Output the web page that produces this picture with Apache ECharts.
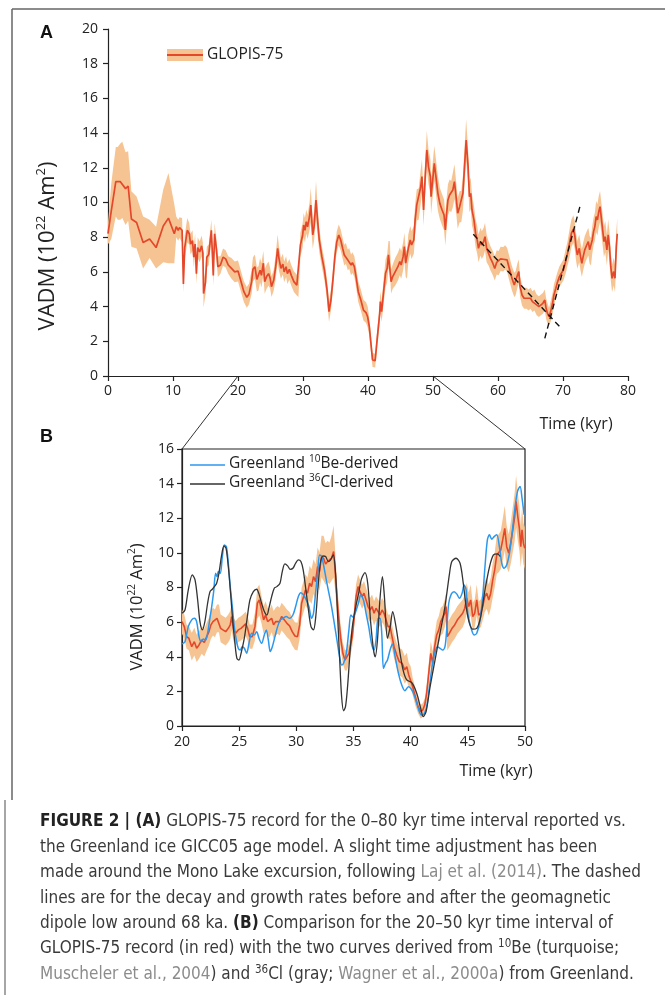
<!DOCTYPE html>
<html><head><meta charset="utf-8">
<script src="https://cdn.jsdelivr.net/npm/echarts@6/dist/echarts.min.js"></script>
<style>html,body{margin:0;padding:0;background:#fff}#c{width:665px;height:995px}</style>
</head><body><div id="c"></div>
<script>
// ---------- DATA (time kyr, VADM 1e22 Am2, band half-width) ----------
const glopisA = [
[0,8.2,0.6],[0.5,9.5,1.6],[1.2,11.2,2.0],[1.5,11.1,2.1],[1.9,11.2,2.2],[2.2,11.3,2.2],[2.7,10.8,2.1],[3.1,10.95,2.0],
[3.6,9.05,1.6],[4.4,8.85,1.5],[5.4,7.7,1.5],[6.4,7.9,1.1],[7.4,7.4,1.2],[8.5,8.65,2.1],[9.3,9.1,2.6],[10.2,8.2,1.7],
[10.5,8.6,0.6],[10.8,8.4,0.6],[11.0,8.55,0.6],[11.4,8.4,0.7],[11.6,5.3,0.5],[11.8,7.4,0.7],[12.2,8.4,0.7],[12.5,8.2,0.6],
[12.7,7.6,0.6],[13.0,7.8,0.6],[13.2,6.85,0.6],[13.4,7.6,0.6],[13.6,5.9,0.6],[13.8,7.4,0.6],[14.1,7.15,0.6],[14.4,7.5,0.6],
[14.6,7.1,0.6],[14.7,4.75,0.8],[15.0,5.4,0.7],[15.2,6.85,0.6],[15.5,7.0,0.6],[15.9,8.4,0.6],[16.2,5.8,0.6],[16.4,8.2,0.6],
[16.7,7.25,0.6],[16.9,6.3,0.6],[17.3,6.4,0.5],[17.7,6.85,0.5],[18.1,6.75,0.5],[18.5,6.4,0.5],[19.0,6.2,0.6],[19.5,6.0,0.6],
[20.0,6.05,0.6],[20.4,5.53,0.6],[20.9,4.86,0.6],[21.35,4.53,0.6],[21.7,4.73,0.6],[22.1,5.44,0.7],[22.3,6.15,0.7],[22.6,6.3,0.7],
[22.9,5.57,0.7],[23.15,5.63,0.7],[23.4,6.1,0.7],[23.6,5.8,0.7],[23.9,6.5,0.7],[24.1,5.44,0.7],[24.4,5.73,0.7],[24.7,5.9,0.7],
[24.95,5.63,0.6],[25.15,5.15,0.6],[25.5,5.53,0.6],[25.8,6.3,0.7],[26.1,7.36,0.8],[26.3,6.78,0.7],[26.6,6.2,0.6],[26.9,6.45,0.6],
[27.1,6.0,0.6],[27.4,6.3,0.6],[27.6,5.9,0.6],[27.9,6.15,0.6],[28.2,5.8,0.6],[28.6,5.44,0.6],[29.05,5.24,0.6],[29.3,5.15,0.6],
[29.6,7.55,0.7],[29.95,8.13,0.7],[30.1,8.7,0.7],[30.3,8.4,0.7],[30.5,8.9,0.7],[30.7,8.6,0.7],[31.0,9.18,0.8],[31.2,9.85,1.0],
[31.5,8.13,0.8],[31.7,8.6,0.8],[32.0,10.14,1.1],[32.2,9.18,0.9],[32.5,7.84,0.7],[32.9,6.88,0.6],[33.3,6.1,0.6],[33.7,4.96,0.6],
[34.0,3.71,0.6],[34.3,4.38,0.6],[34.6,5.53,0.6],[34.9,6.88,0.6],[35.2,7.74,0.6],[35.5,8.13,0.6],[35.8,7.84,0.6],[36.1,7.36,0.6],
[36.35,6.97,0.6],[36.6,7.07,0.6],[36.9,6.68,0.6],[37.1,6.78,0.6],[37.4,6.4,0.6],[37.6,6.53,0.6],[37.9,6.3,0.6],[38.2,5.63,0.6],
[38.5,4.86,0.6],[38.9,4.38,0.6],[39.3,3.8,0.6],[39.7,3.65,0.6],[39.95,3.4,0.6],[40.2,2.84,0.5],[40.45,1.88,0.5],[40.7,0.92,0.4],
[41.1,0.89,0.4],[41.4,2.08,0.5],[41.8,3.6,0.6],[41.9,4.29,0.6],[42.1,3.71,0.6],[42.4,4.86,0.7],[42.7,5.92,0.8],[42.95,6.21,0.8],
[43.15,6.98,0.8],[43.35,6.98,0.8],[43.55,5.44,0.7],[43.8,5.73,0.7],[44.2,6.02,0.8],[44.6,6.3,0.8],[44.9,6.6,0.8],[45.1,6.4,0.8],
[45.4,6.88,0.8],[45.6,7.46,0.8],[45.8,6.5,0.8],[46.0,6.4,0.8],[46.2,7.36,0.8],[46.5,7.84,0.8],[46.7,7.55,0.8],[47.05,7.84,0.8],
[47.25,9.0,0.9],[47.5,9.86,0.9],[47.8,9.9,0.9],[48.1,10.88,1.0],[48.3,11.49,1.0],[48.55,9.57,0.9],[48.8,11.49,1.0],[49.05,13.03,1.1],
[49.3,12.07,1.0],[49.6,11.49,1.0],[49.7,10.34,1.0],[49.98,11.4,1.0],[50.2,12.26,1.0],[50.45,11.49,1.0],[50.75,10.53,1.0],[51.05,9.95,0.9],
[51.4,9.57,0.9],[51.7,9.28,0.9],[51.9,8.42,0.9],[52.1,9.38,0.9],[52.3,10.15,0.9],[52.55,10.43,0.9],[52.8,10.34,0.9],[53.05,10.72,1.0],
[53.3,11.2,1.0],[53.6,10.15,0.9],[53.8,9.38,0.9],[54.1,9.76,0.9],[54.35,9.76,0.9],[54.6,10.53,1.0],[54.85,12.07,1.1],[55.1,13.6,1.2],
[55.4,12.07,1.0],[55.6,10.34,0.9],[55.8,10.53,0.9],[56.0,9.57,0.9],[56.3,9.0,0.8],[56.55,8.23,0.8],[56.8,7.84,0.8],[57.0,7.36,0.8],
[57.3,7.75,0.8],[57.5,7.55,0.8],[57.8,7.75,0.8],[58.0,8.03,0.8],[58.25,7.36,0.8],[58.55,7.07,0.7],[58.85,6.78,0.7],[59.2,6.5,0.7],
[59.5,6.2,0.7],[59.8,6.55,0.7],[60.1,6.5,0.7],[60.4,6.75,0.7],[60.8,6.73,0.7],[61.1,6.84,0.7],[61.4,6.69,0.7],[61.8,6.11,0.7],
[62.15,5.63,0.7],[62.5,5.25,0.7],[62.7,5.34,0.7],[63.0,5.82,0.7],[63.2,6.02,0.7],[63.4,5.15,0.6],[63.7,4.67,0.6],[64.0,4.48,0.6],
[64.4,4.48,0.6],[64.7,4.38,0.6],[65.0,4.48,0.6],[65.3,4.29,0.6],[65.6,4.38,0.6],[65.95,4.1,0.6],[66.3,4.0,0.6],[66.6,4.1,0.6],
[66.9,4.19,0.6],[67.2,4.38,0.6],[67.4,3.9,0.6],[67.6,3.62,0.6],[67.85,3.42,0.5],[68.1,3.71,0.6],[68.4,4.19,0.6],[68.6,4.67,0.6],
[68.9,5.06,0.6],[69.1,5.34,0.6],[69.45,5.73,0.6],[69.75,5.92,0.6],[70.06,6.11,0.6],[70.4,6.59,0.7],[70.7,7.07,0.7],[71.0,7.65,0.8],
[71.3,8.23,0.8],[71.6,8.46,0.8],[71.8,8.13,0.8],[72.0,7.46,0.8],[72.2,6.98,0.8],[72.5,7.36,0.8],[72.7,6.88,0.8],[72.9,6.5,0.8],
[73.1,6.88,0.8],[73.35,7.27,0.8],[73.65,7.55,0.8],[73.9,7.75,0.8],[74.1,7.27,0.8],[74.3,7.17,0.8],[74.5,7.84,0.8],[74.7,8.32,0.8],
[74.9,8.61,0.8],[75.1,9.19,0.9],[75.3,9.0,0.9],[75.5,9.47,0.9],[75.7,9.76,0.9],[75.9,9.09,0.9],[76.1,8.42,0.9],[76.3,7.75,0.9],
[76.5,8.03,0.9],[76.75,7.27,0.9],[76.95,8.13,0.9],[77.15,7.46,0.9],[77.35,6.3,0.8],[77.55,5.63,0.8],[77.8,6.02,0.8],[78.0,5.63,0.8],
[78.2,7.46,0.9],[78.35,8.2,0.9]
];
const trendDecay = [[56.2,8.17],[69.5,2.84]];
const trendGrowth = [[67.2,2.17],[72.7,9.9]];

const glopisB = [
[20.0,6.03,0.7],[20.2,5.74,0.7],[20.4,5.16,0.7],[20.6,5.07,0.7],[20.85,4.58,0.8],[21.08,4.87,0.8],[21.28,4.49,0.8],[21.49,4.68,0.8],
[21.72,4.97,0.8],[21.95,4.82,0.8],[22.16,5.16,0.8],[22.36,5.45,0.8],[22.53,5.84,0.8],[22.71,6.03,0.8],[22.88,5.93,0.8],[23.06,6.22,0.8],
[23.23,6.22,0.8],[23.38,5.64,0.8],[23.58,5.55,0.8],[23.82,5.45,0.8],[24.05,5.64,0.8],[24.22,5.84,0.8],[24.34,6.32,0.8],[24.52,5.55,0.7],
[24.69,5.36,0.7],[24.92,5.55,0.7],[25.16,5.64,0.7],[25.39,5.78,0.7],[25.57,5.9,0.7],[25.74,5.64,0.7],[25.92,5.16,0.7],[26.15,5.16,0.7],
[26.38,5.74,0.8],[26.59,7.09,0.9],[26.76,7.28,0.9],[26.96,6.7,0.8],[27.14,6.13,0.8],[27.31,6.41,0.8],[27.49,6.03,0.8],[27.66,5.93,0.8],
[27.84,6.22,0.8],[28.01,5.84,0.8],[28.19,6.03,0.8],[28.36,6.13,0.8],[28.54,6.03,0.8],[28.71,6.32,0.8],[28.95,6.13,0.8],[29.18,5.93,0.8],
[29.41,5.78,0.8],[29.64,5.45,0.8],[29.88,5.2,0.8],[30.1,5.16,0.8],[30.29,5.84,0.8],[30.46,7.09,0.9],[30.63,7.47,0.9],[30.8,7.86,0.9],
[30.98,7.67,0.9],[31.16,8.25,1.0],[31.33,8.05,1.0],[31.5,8.63,1.0],[31.68,8.34,1.0],[31.86,9.21,1.1],[32.03,8.92,1.1],[32.2,9.79,1.2],
[32.38,9.69,1.3],[32.56,9.36,1.2],[32.73,9.5,1.2],[32.9,9.4,1.2],[33.08,9.69,1.3],[33.26,10.08,1.5],[33.37,9.21,1.2],[33.55,7.47,0.9],
[33.72,6.13,0.8],[33.9,4.97,0.7],[34.07,4.2,0.6],[34.25,3.81,0.6],[34.42,3.81,0.6],[34.6,4.2,0.6],[34.77,4.78,0.6],[34.9,5.2,0.6],
[35.05,6.2,0.6],[35.22,7.47,0.7],[35.4,8.05,0.7],[35.57,7.76,0.7],[35.75,7.47,0.7],[35.92,7.67,0.7],[36.1,7.28,0.7],[36.27,6.9,0.7],
[36.45,6.7,0.7],[36.62,6.9,0.7],[36.8,6.51,0.7],[36.97,6.8,0.7],[37.15,6.61,0.7],[37.32,6.41,0.7],[37.5,6.7,0.7],[37.67,6.51,0.7],
[37.85,6.13,0.7],[38.02,5.74,0.7],[38.2,5.74,0.7],[38.37,5.16,0.7],[38.55,4.58,0.7],[38.78,4.1,0.7],[39.0,3.72,0.8],[39.25,3.62,0.8],
[39.48,3.24,0.8],[39.66,3.43,0.8],[39.83,2.95,0.7],[40.0,2.85,0.6],[40.18,2.27,0.5],[40.41,1.69,0.5],[40.65,1.12,0.4],[40.88,0.83,0.4],
[41.06,0.92,0.4],[41.23,1.21,0.4],[41.4,1.89,0.5],[41.58,3.04,0.6],[41.76,4.2,0.7],[41.93,3.62,0.7],[42.1,4.58,0.7],[42.28,5.26,0.8],
[42.46,5.55,0.8],[42.63,6.03,0.8],[42.8,6.13,0.8],[42.98,6.51,0.8],[43.1,6.9,0.8],[43.2,5.16,0.8],[43.39,5.36,0.8],[43.62,5.64,0.8],
[43.85,5.84,0.8],[44.09,6.13,0.8],[44.32,6.32,0.8],[44.55,6.51,0.8],[44.73,6.8,0.8],[44.9,7.38,0.9],[45.08,6.9,0.8],[45.25,7.28,0.9],
[45.43,6.32,0.8],[45.6,6.51,0.8],[45.78,7.28,0.9],[45.95,6.41,0.8],[46.13,6.51,0.8],[46.3,6.9,0.8],[46.48,7.47,0.9],[46.65,7.67,0.9],
[46.83,7.28,0.9],[47.0,7.67,0.9],[47.18,8.44,1.0],[47.35,9.02,1.0],[47.53,9.88,1.1],[47.7,9.98,1.1],[47.88,10.17,1.1],[48.05,10.75,1.2],
[48.23,11.42,1.3],[48.4,10.36,1.2],[48.58,9.98,1.1],[48.75,10.56,1.2],[48.93,11.33,1.3],[49.1,12.1,1.4],[49.22,12.97,1.5],[49.37,12.1,1.4],
[49.51,11.42,1.3],[49.63,10.36,1.2],[49.74,11.33,1.3],[49.86,10.56,1.2],[49.98,10.27,1.2]
];
const be10B = [
[20,4.74],[20.26,4.87],[20.55,5.74],[20.85,6.13],[21.08,6.22],[21.28,6.03],[21.49,5.16],[21.66,4.87],[21.86,5.03],[22.07,4.97],
[22.24,5.36],[22.42,6.13],[22.6,6.9],[22.77,7.76],[22.94,8.82],[23.06,8.63],[23.18,8.92],[23.35,8.82],[23.53,9.79],[23.7,10.46],
[23.88,10.36],[24.05,9.4],[24.22,8.05],[24.4,6.9],[24.57,5.74],[24.75,4.97],[24.92,4.49],[25.1,4.39],[25.27,4.58],[25.45,4.49],
[25.65,4.2],[25.86,4.78],[26.09,5.36],[26.32,5.26],[26.53,5.45],[26.73,5.07],[26.96,4.78],[27.2,5.26],[27.37,5.55],[27.55,4.97],
[27.72,4.3],[27.9,4.58],[28.13,5.16],[28.36,5.74],[28.6,6.13],[28.83,6.22],[29.12,6.32],[29.41,6.22],[29.7,6.41],[29.94,6.9],
[30.17,7.47],[30.4,7.7],[30.63,7.57],[30.87,7.28],[31.1,6.9],[31.33,6.22],[31.5,6.51],[31.68,7.67],[31.86,8.82],[32.03,9.88],
[32.2,9.82],[32.38,9.3],[32.62,8.44],[32.85,7.67],[33.08,6.9],[33.32,5.93],[33.55,4.97],[33.78,4.01],[33.96,3.52],[34.13,3.62],
[34.37,4.2],[34.6,5.55],[34.77,6.41],[34.95,6.3],[35.14,6.51],[35.43,7.09],[35.63,7.57],[35.87,7.28],[36.1,6.51],[36.33,5.74],
[36.57,4.78],[36.8,4.39],[36.97,4.97],[37.15,6.22],[37.32,6.22],[37.47,5.36],[37.62,3.33],[37.8,3.62],[37.97,3.81],[38.2,4.39],
[38.4,4.74],[38.64,4.01],[38.93,3.04],[39.22,2.37],[39.5,2.04],[39.8,2.27],[40.0,2.18],[40.24,1.89],[40.53,1.31],[40.76,0.83],
[40.97,0.63],[41.17,0.69],[41.4,1.12],[41.64,2.27],[41.87,3.43],[42.1,4.2],[42.34,4.58],[42.57,4.49],[42.8,4.39],[43.0,4.58],
[43.15,5.55],[43.33,7.09],[43.56,7.63],[43.8,7.76],[44.03,7.63],[44.26,7.38],[44.5,7.67],[44.67,8.15],[44.85,7.86],[45.0,6.51],
[45.25,5.74],[45.55,5.26],[45.78,5.36],[46.07,6.13],[46.3,7.47],[46.5,9.21],[46.71,10.75],[46.89,11.04],[47.09,10.79],[47.3,10.94],
[47.53,11.04],[47.76,10.36],[47.97,9.4],[48.17,9.11],[48.4,9.3],[48.64,9.98],[48.87,11.13],[49.1,12.48],[49.34,13.54],[49.57,13.83],
[49.74,13.16],[49.92,12.2]
];
const cl36B = [
[20,6.51],[20.26,6.7],[20.55,7.86],[20.9,8.73],[21.14,8.44],[21.37,7.28],[21.57,6.03],[21.78,5.55],[22.0,6.03],[22.24,7.09],
[22.45,7.76],[22.65,7.9],[22.83,8.05],[23.03,8.25],[23.23,8.82],[23.47,9.88],[23.67,10.4],[23.85,10.27],[24.05,9.21],[24.25,7.67],
[24.43,6.13],[24.63,4.78],[24.8,3.91],[24.98,3.81],[25.2,4.3],[25.45,5.07],[25.68,6.13],[25.94,7.28],[26.24,7.76],[26.53,7.9],
[26.73,7.63],[26.96,7.09],[27.2,6.61],[27.43,6.41],[27.6,6.8],[27.84,7.47],[28.07,7.96],[28.3,8.05],[28.57,8.25],[28.77,8.92],
[29.0,9.36],[29.24,9.25],[29.47,9.05],[29.7,9.11],[29.94,9.4],[30.17,9.59],[30.4,9.5],[30.6,9.02],[30.8,8.05],[31.04,6.8],
[31.28,5.74],[31.5,5.55],[31.7,6.32],[31.9,8.05],[32.1,9.4],[32.33,9.82],[32.56,9.79],[32.8,9.5],[33.0,9.6],[33.23,9.88],
[33.43,8.82],[33.6,6.51],[33.78,4.01],[33.96,1.7],[34.13,0.88],[34.3,1.12],[34.48,2.27],[34.69,4.2],[34.9,5.74],[35.2,6.9],
[35.45,7.67],[35.7,8.5],[36.0,8.86],[36.25,8.2],[36.5,6.0],[36.75,4.4],[36.9,4.0],[37.1,5.0],[37.3,7.2],[37.53,8.63],
[37.7,7.5],[37.97,5.07],[38.2,5.7],[38.43,6.61],[38.7,5.8],[39.07,4.2],[39.35,3.2],[39.66,2.66],[40.1,2.5],[40.53,1.89],
[40.88,1.02],[41.1,0.54],[41.35,0.83],[41.7,2.27],[42.13,3.81],[42.57,5.36],[43.0,6.9],[43.4,8.82],[43.6,9.5],[43.97,9.69],
[44.32,9.4],[44.6,8.25],[44.85,6.9],[45.14,5.93],[45.43,5.59],[45.78,5.64],[46.13,6.32],[46.5,7.86],[46.9,9.21],[47.24,9.88],
[47.59,9.94],[47.82,9.79]
];
const axisA = {xMin:0, xMax:80, xStep:10, yMin:0, yMax:20, yStep:2};
const axisB = {xMin:20, xMax:50, xStep:5, yMin:0, yMax:16, yStep:2};

// ---------- STYLE ----------
const FONT = "'Open Sans', sans-serif";
const CAP = "'Liberation Sans Narrow', 'DejaVu Sans Condensed', 'Liberation Sans', sans-serif";
const CAPSIZE = 17;
const BAND = '#f6c493', RED = '#e5472b', BLUE = '#2b98ee', BLACK = '#333333', AX = '#222';

function axis(gi, min, max, step, fs, margin) {
  return {type:'value', gridIndex:gi, min, max, interval:step,
    axisLine:{show:true, onZero:false, lineStyle:{color:AX, width:1.2}},
    axisTick:{show:true, length:5, lineStyle:{color:AX, width:1.2}},
    axisLabel:{color:AX, fontSize:fs, fontFamily:FONT, margin},
    splitLine:{show:false}};
}
function band(rows, idx) {
  return {type:'custom', xAxisIndex:idx, yAxisIndex:idx, silent:true, z:1, clip:false,
    data:[[rows[0][0], rows[0][1]]],
    renderItem:(p, api) => {
      const up = rows.map(r => api.coord([r[0], r[1] + r[2]]));
      const lo = rows.map(r => api.coord([r[0], Math.max(0, r[1] - r[2])])).reverse();
      return {type:'polygon', shape:{points:up.concat(lo)}, style:{fill:BAND}};
    }};
}
function line(data, idx, color, width, extra) {
  return Object.assign({type:'line', xAxisIndex:idx, yAxisIndex:idx, data, symbol:'none', showSymbol:false,
    silent:true, z:3, lineStyle:{color, width}}, extra || {});
}

const chart = echarts.init(document.getElementById('c'), null, {renderer:'canvas'});
chart.setOption({
  animation:false, backgroundColor:'#fff',
  grid:[
    {left:108, top:29, width:520, height:347},
    {left:182, top:449, width:343, height:277, show:true, borderColor:AX, borderWidth:1.2}
  ],
  xAxis:[axis(0, axisA.xMin, axisA.xMax, axisA.xStep, 14, 8), axis(1, axisB.xMin, axisB.xMax, axisB.xStep, 14, 9)],
  yAxis:[axis(0, axisA.yMin, axisA.yMax, axisA.yStep, 14, 10), axis(1, axisB.yMin, axisB.yMax, axisB.yStep, 14, 8)],
  series:[
    band(glopisA, 0),
    line(glopisA.map(r => [r[0], r[1]]), 0, RED, 1.7),
    line(trendDecay, 0, '#111', 1.4, {lineStyle:{color:'#111', width:1.4, type:[6,4]}, z:4}),
    line(trendGrowth, 0, '#111', 1.4, {lineStyle:{color:'#111', width:1.4, type:[6,4]}, z:4}),
    band(glopisB, 1),
    line(glopisB.map(r => [r[0], r[1]]), 1, RED, 1.6),
    line(be10B, 1, BLUE, 1.5, {smooth:0.3, z:4}),
    line(cl36B, 1, BLACK, 1.3, {smooth:0.3, z:5})
  ]
});

// ---------- GRAPHICS (labels, legends, connectors, caption) ----------
const pA20 = chart.convertToPixel({xAxisIndex:0, yAxisIndex:0}, [20, 0]);
const pA50 = chart.convertToPixel({xAxisIndex:0, yAxisIndex:0}, [50, 0]);
const pB20 = chart.convertToPixel({xAxisIndex:1, yAxisIndex:1}, [20, 16]);
const pB50 = chart.convertToPixel({xAxisIndex:1, yAxisIndex:1}, [50, 16]);

const sup = (fs, lh) => ({fontSize:fs, fontFamily:FONT, fill:AX, verticalAlign:'top', lineHeight:lh});
function txt(x, y, text, opt) {
  return Object.assign({type:'text', x, y, silent:true, z:10,
    style:Object.assign({text, fill:AX, fontFamily:FONT, fontSize:14, align:'left', verticalAlign:'middle'}, opt.style || {})},
    opt.el || {});
}
const capRich = {
  b:{fontWeight:'bold', fill:'#222', fontFamily:CAP, fontSize:CAPSIZE},
  g:{fill:'#8c8c8c', fontFamily:CAP, fontSize:CAPSIZE},
  s:{fill:'#3a3a3a', fontFamily:CAP, fontSize:11.5, verticalAlign:'top', lineHeight:12}
};
const capLines = [
  '{b|FIGURE 2 | (A)} GLOPIS-75 record for the 0–80 kyr time interval reported vs.',
  'the Greenland ice GICC05 age model. A slight time adjustment has been',
  'made around the Mono Lake excursion, following {g|Laj et al. (2014)}. The dashed',
  'lines are for the decay and growth rates before and after the geomagnetic',
  'dipole low around 68 ka. {b|(B)} Comparison for the 20–50 kyr time interval of',
  'GLOPIS-75 record (in red) with the two curves derived from {s|10}Be (turquoise;',
  '{g|Muscheler et al., 2004}) and {s|36}Cl (gray; {g|Wagner et al., 2000a}) from Greenland.'
];
const graphics = [
  {type:'line', shape:{x1:12, y1:9, x2:665, y2:9}, style:{stroke:'#666', lineWidth:1.5}, silent:true},
  {type:'line', shape:{x1:12, y1:9, x2:12, y2:800}, style:{stroke:'#666', lineWidth:1.5}, silent:true},
  {type:'line', shape:{x1:5, y1:800, x2:5, y2:995}, style:{stroke:'#888', lineWidth:1.5}, silent:true},
  {type:'line', shape:{x1:pA20[0], y1:pA20[1], x2:pB20[0], y2:pB20[1]}, style:{stroke:'#333', lineWidth:1}, silent:true},
  {type:'line', shape:{x1:pA50[0], y1:pA50[1], x2:pB50[0], y2:pB50[1]}, style:{stroke:'#333', lineWidth:1}, silent:true},
  txt(40, 33, 'A', {style:{fontFamily:"'Liberation Sans', Arial, sans-serif", fontWeight:'bold', fontSize:18, fill:'#111'}}),
  txt(40, 437, 'B', {style:{fontFamily:"'Liberation Sans', Arial, sans-serif", fontWeight:'bold', fontSize:18, fill:'#111'}}),
  txt(48, 246, 'VADM (10{s|22} Am{s|2})', {style:{fontSize:22, lineHeight:26, align:'center', rich:{s:sup(13, 13)}}, el:{rotation:Math.PI/2}}),
  txt(137, 607, 'VADM (10{s|22} Am{s|2})', {style:{fontSize:16.5, lineHeight:20, align:'center', rich:{s:sup(10, 10)}}, el:{rotation:Math.PI/2}}),
  txt(576, 424, 'Time (kyr)', {style:{fontSize:16, align:'center'}}),
  txt(496, 771, 'Time (kyr)', {style:{fontSize:16, align:'center'}}),
  // legend A
  {type:'rect', shape:{x:167, y:49, width:36, height:12}, style:{fill:BAND}, silent:true},
  {type:'line', shape:{x1:167, y1:55, x2:203, y2:55}, style:{stroke:RED, lineWidth:2}, silent:true},
  txt(207, 55, 'GLOPIS-75', {style:{fontSize:15.5}}),
  // legend B
  {type:'line', shape:{x1:190, y1:465, x2:225, y2:465}, style:{stroke:BLUE, lineWidth:1.5}, silent:true},
  {type:'line', shape:{x1:190, y1:484, x2:225, y2:484}, style:{stroke:BLACK, lineWidth:1.3}, silent:true},
  txt(229, 464, 'Greenland {s|10}Be-derived', {style:{fontSize:15.5, lineHeight:19, rich:{s:sup(10, 10)}}}),
  txt(229, 483, 'Greenland {s|36}Cl-derived', {style:{fontSize:15.5, lineHeight:19, rich:{s:sup(10, 10)}}})
];
capLines.forEach((t, i) => {
  graphics.push(txt(40, 822 + i * 25.4, t, {style:{fontFamily:CAP, fontSize:CAPSIZE, fill:'#3a3a3a', lineHeight:21, rich:capRich}}));
});
chart.setOption({graphic:graphics});
</script></body></html>
